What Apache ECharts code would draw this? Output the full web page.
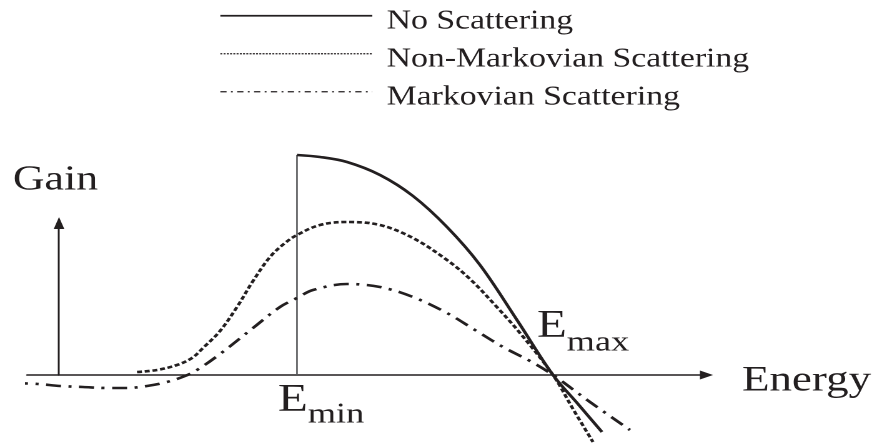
<!DOCTYPE html>
<html>
<head>
<meta charset="utf-8">
<script src="https://cdn.jsdelivr.net/npm/echarts@6/dist/echarts.min.js"></script>
<style>
html,body{margin:0;padding:0;background:#fff;overflow:hidden;}
#c{width:702px;height:445px;transform:scaleX(1.2493);transform-origin:0 0;}
</style>
</head>
<body>
<div id="c"></div>
<script>
// Schematic units: energy and gain in arbitrary units (origin at axis crossing)
const seriesNames = ['No Scattering', 'Non-Markovian Scattering', 'Markovian Scattering'];

const noScatEnergy = [238, 261, 288, 321, 354, 388, 421, 458, 494, 519, 543];
const noScatGain   = [220, 218, 213, 200, 179, 148, 110, 55, 0, -29, -57];

const nonMarkEnergy = [78, 98, 118, 133, 144, 161, 178, 194, 211, 226, 238, 261, 288, 321, 354, 388, 411, 436, 461, 494, 514, 534];
const nonMarkGain   = [3, 5, 10, 17, 27, 44, 68, 94, 118, 132, 140, 150, 153, 150, 137, 115, 96, 70, 42, 0, -34, -67];

const markEnergy = [-46, -21, 1, 24, 48, 68, 88, 108, 126, 138, 161, 194, 221, 238, 254, 288, 321, 354, 388, 416, 444, 471, 494, 531, 571];
const markGain   = [-8, -9, -11, -12, -13, -13, -11, -7, -1, 5, 21, 47, 68, 77, 85, 91, 88, 78, 62, 45, 28, 14, 0, -27, -55];

const eMin = 238;
const eMax = 494;
const eMinTop = 220;

const axisLabels = { x: 'Energy', y: 'Gain' };

const S = 877 / 702; // horizontal stretch of the figure
const ink = '#231f20';
const serif = '"Liberation Serif", "Times New Roman", Times, serif';

const pairs = (xs, ys) => xs.map((x, i) => [x, ys[i]]);

const chart = echarts.init(document.getElementById('c'), null, { renderer: 'canvas', devicePixelRatio: 2 });

const option = {
  animation: false,
  backgroundColor: '#ffffff',
  textStyle: { fontFamily: serif },
  grid: { left: 27 / S, right: 702 - 565.5, top: 223, bottom: 70, containLabel: false },
  xAxis: {
    type: 'value', min: -32, max: 647.5,
    axisLine: { onZero: false, lineStyle: { color: ink, width: 1.5 }, symbol: ['none', 'triangle'], symbolSize: [9, 10.5] },
    axisTick: { show: false }, axisLabel: { show: false }, splitLine: { show: false }
  },
  yAxis: {
    type: 'value', min: 0, max: 152,
    axisLine: { onZero: true, lineStyle: { color: ink, width: 1.5 }, symbol: ['none', 'triangle'], symbolSize: [8.5, 12] },
    axisTick: { show: false }, axisLabel: { show: false }, splitLine: { show: false }
  },
  legend: {
    orient: 'vertical', left: 213 / S, top: -8.25,
    itemWidth: 152 / S, itemHeight: 14, itemGap: 0,
    itemStyle: { opacity: 0, borderWidth: 0 },
    lineStyle: { width: 1.6 },
    formatter: '{t|{name}}',
    textStyle: {
      fontFamily: serif, fontSize: 27, color: ink,
      rich: { t: { fontFamily: serif, fontSize: 27, color: ink, lineHeight: 19, padding: [11, 0, 0, 6.5] } }
    },
    data: [
      { name: seriesNames[0], lineStyle: { width: 1.7, type: 'solid' } },
      { name: seriesNames[1], lineStyle: { width: 1.3, type: [1.6, 1] } },
      { name: seriesNames[2], lineStyle: { width: 1.3, type: [5, 3.5, 1.5, 3.5] } }
    ]
  },
  series: [
    {
      name: seriesNames[0], type: 'line', data: pairs(noScatEnergy, noScatGain),
      smooth: 0.35, symbol: 'none', clip: false, z: 5,
      itemStyle: { color: ink },
      lineStyle: { color: ink, width: 2.6, type: 'solid' }
    },
    {
      name: seriesNames[1], type: 'line', data: pairs(nonMarkEnergy, nonMarkGain),
      smooth: 0.35, symbol: 'none', clip: false, z: 4,
      itemStyle: { color: ink },
      lineStyle: { color: ink, width: 2.6, type: [4, 2.2] }
    },
    {
      name: seriesNames[2], type: 'line', data: pairs(markEnergy, markGain),
      smooth: 0.35, symbol: 'none', clip: false, z: 4,
      itemStyle: { color: ink },
      lineStyle: { color: ink, width: 2.6, type: [12, 6, 2.5, 6] }
    },
    {
      name: 'E_min marker', type: 'line', data: [[eMin, 0], [eMin, eMinTop]],
      symbol: 'none', clip: false, z: 3, silent: true,
      itemStyle: { color: '#58595b' },
      lineStyle: { color: '#58595b', width: 1.3, type: 'solid' }
    }
  ],
  graphic: [
    { type: 'text', left: 13 / S, top: 163, style: { text: axisLabels.y, fontFamily: serif, fontSize: 35, fill: ink } },
    { type: 'text', left: 742 / S, top: 363, style: { text: axisLabels.x, fontFamily: serif, fontSize: 36, fill: ink } },
    {
      type: 'text', x: 278 / S, y: 380.5,
      style: {
        text: '{e|E}{s|min}', fill: ink, verticalAlign: 'top', fontFamily: serif,
        rich: {
          e: { fontFamily: serif, fontSize: 39, lineHeight: 40, verticalAlign: 'top', fill: ink },
          s: { fontFamily: serif, fontSize: 29, lineHeight: 29, padding: [20, 0, 0, 0], verticalAlign: 'top', fill: ink }
        }
      }
    },
    {
      type: 'text', x: 537 / S, y: 306.5,
      style: {
        text: '{e|E}{s|max}', fill: ink, verticalAlign: 'top', fontFamily: serif,
        rich: {
          e: { fontFamily: serif, fontSize: 39, lineHeight: 40, verticalAlign: 'top', fill: ink },
          s: { fontFamily: serif, fontSize: 29, lineHeight: 29, padding: [22, 0, 0, 0], verticalAlign: 'top', fill: ink }
        }
      }
    }
  ]
};
chart.setOption(option);
</script>
</body>
</html>
